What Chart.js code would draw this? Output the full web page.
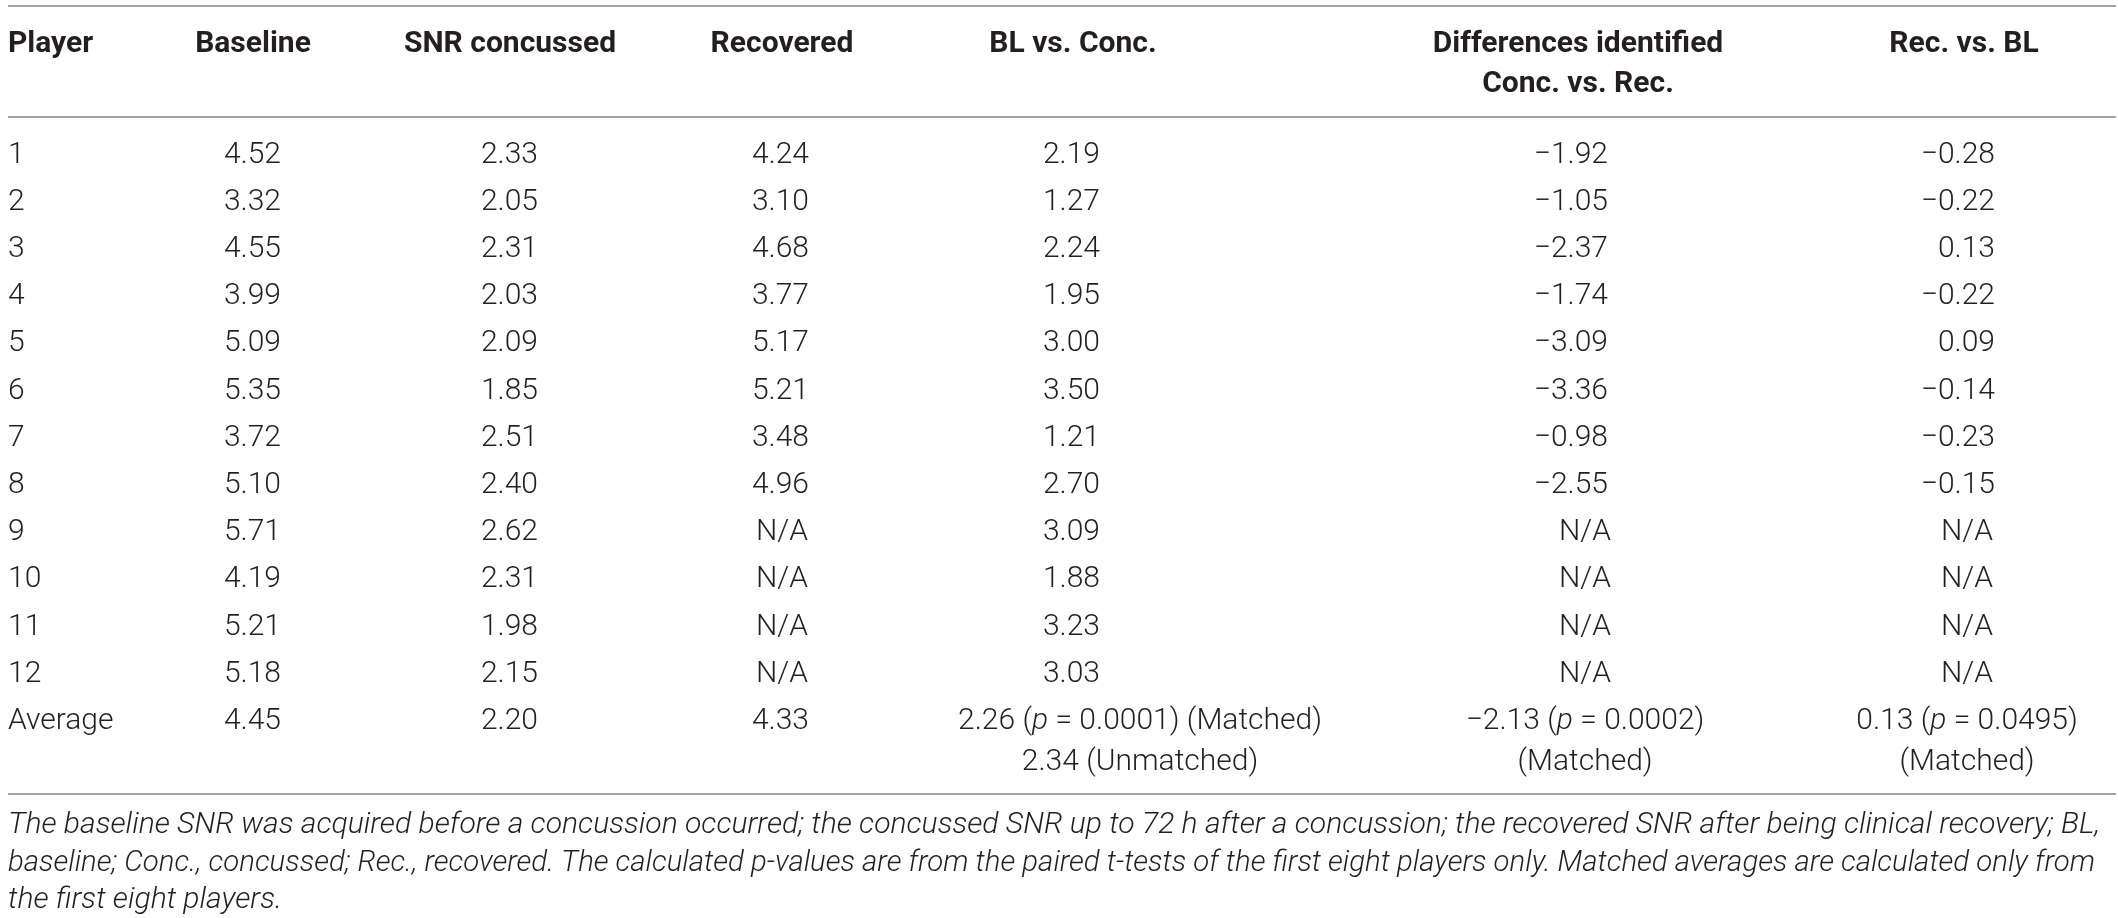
<!DOCTYPE html>
<html>
<head>
<meta charset="utf-8">
<script src="https://cdn.jsdelivr.net/npm/chart.js@4/dist/chart.umd.min.js"></script>
<style>
    html, body { margin: 0; padding: 0; background: #fff; }
    #wrap { width: 2118px; height: 918px; }
</style>
</head>
<body>
<div id="wrap"><canvas id="tabla" width="2118" height="918"></canvas></div>
<script>
// datos de la tabla
const jugadores = ["1", "2", "3", "4", "5", "6", "7", "8", "9", "10", "11", "12", "Average"];
const baseline = [4.52, 3.32, 4.55, 3.99, 5.09, 5.35, 3.72, 5.10, 5.71, 4.19, 5.21, 5.18, 4.45];
const snrConcussed = [2.33, 2.05, 2.31, 2.03, 2.09, 1.85, 2.51, 2.40, 2.62, 2.31, 1.98, 2.15, 2.20];
const recovered = [4.24, 3.10, 4.68, 3.77, 5.17, 5.21, 3.48, 4.96, null, null, null, null, 4.33];
const blVsConc = [2.19, 1.27, 2.24, 1.95, 3.00, 3.50, 1.21, 2.70, 3.09, 1.88, 3.23, 3.03];
const concVsRec = [-1.92, -1.05, -2.37, -1.74, -3.09, -3.36, -0.98, -2.55, null, null, null, null];
const recVsBl = [-0.28, -0.22, 0.13, -0.22, 0.09, -0.14, -0.23, -0.15, null, null, null, null];
const promediosTexto = [
    ["2.26 (p = 0.0001) (Matched)", "2.34 (Unmatched)"],
    ["\u22122.13 (p = 0.0002)", "(Matched)"],
    ["0.13 (p = 0.0495)", "(Matched)"]
];
const encabezados = ["Player", "Baseline", "SNR concussed", "Recovered", "BL vs. Conc.",
    ["Differences identified", "Conc. vs. Rec."], "Rec. vs. BL"];
const nota = [
    "The baseline SNR was acquired before a concussion occurred; the concussed SNR up to 72 h after a concussion; the recovered SNR after being clinical recovery; BL,",
    "baseline; Conc., concussed; Rec., recovered. The calculated p-values are from the paired t-tests of the first eight players only. Matched averages are calculated only from",
    "the first eight players."
];

const columnas = [jugadores, baseline, snrConcussed, recovered, blVsConc, concVsRec, recVsBl];

// posiciones (unidades de la escala)
const colCentro = [8, 253, 510, 782, 1073, 1578, 1964];
const colNumDerecha = [null, 281, 538, 809, 1100, 1608, 1995];
const colTextoCentro = [null, 253, 510, 782, 1140, 1585, 1967];
const filaInicio = 152;
const filaPaso = 47.2;
const lineas = [6, 117, 794];
const notaY = [822, 860, 897];
const notaAncho = [2100, 2095];

const TAM = 30;
const COLOR = "#231f20";
const FUENTE = "Roboto";

function fmt(v) {
    const s = Math.abs(v).toFixed(2);
    return v < 0 ? "\u2212" + s : s;
}

function textoRico(ctx, texto, x, y, align, tam) {
    const partes = texto.split(/\b(p)\b/);
    const fuentes = partes.map((p, i) => (i % 2 === 1 ? "italic 300 " : "300 ") + tam + "px " + FUENTE);
    let total = 0;
    partes.forEach((p, i) => { ctx.font = fuentes[i]; total += ctx.measureText(p).width; });
    let cx = align === "center" ? x - total / 2 : (align === "right" ? x - total : x);
    ctx.textAlign = "left";
    partes.forEach((p, i) => {
        ctx.font = fuentes[i];
        ctx.fillText(p, cx, y);
        cx += ctx.measureText(p).width;
    });
}

const tablaPlugin = {
    id: "tabla",
    afterDraw(chart) {
        const ctx = chart.ctx;
        const sx = chart.scales.x;
        const sy = chart.scales.y;
        const px = v => sx.getPixelForValue(v);
        const py = v => sy.getPixelForValue(v);
        const base = c => py(c) + TAM * 0.355;

        ctx.save();
        ctx.fillStyle = COLOR;
        ctx.textBaseline = "alphabetic";

        // lineas horizontales
        ctx.strokeStyle = "#a3a3a3";
        ctx.lineWidth = 2;
        lineas.forEach(l => {
            ctx.beginPath();
            ctx.moveTo(px(8), py(l));
            ctx.lineTo(px(2116), py(l));
            ctx.stroke();
        });

        // encabezados
        ctx.font = "700 " + TAM + "px " + FUENTE;
        encabezados.forEach((h, c) => {
            const renglones = Array.isArray(h) ? h : [h];
            ctx.textAlign = c === 0 ? "left" : "center";
            renglones.forEach((r, k) => ctx.fillText(r, px(colCentro[c]), base(41 + k * 40)));
        });

        // celdas
        jugadores.forEach((jug, f) => {
            const yc = filaInicio + f * filaPaso;
            ctx.font = "300 " + TAM + "px " + FUENTE;
            ctx.textAlign = "left";
            ctx.fillText(jug, px(colCentro[0]), base(yc));
            for (let c = 1; c < columnas.length; c++) {
                const v = columnas[c][f];
                if (f === jugadores.length - 1 && c >= 4) {
                    promediosTexto[c - 4].forEach((t, k) =>
                        textoRico(ctx, t, px(colTextoCentro[c]), base(yc + k * 41), "center", TAM));
                } else if (v === null || v === undefined) {
                    textoRico(ctx, "N/A", px(colTextoCentro[c]), base(yc), "center", TAM);
                } else {
                    textoRico(ctx, fmt(v), px(colNumDerecha[c]), base(yc), "right", TAM);
                }
            }
        });

        // nota al pie (estrechada para que quepa como en el original)
        ctx.font = "italic 300 " + TAM + "px " + FUENTE;
        ctx.textAlign = "left";
        let k0 = 1;
        nota.forEach((t, k) => {
            const w = ctx.measureText(t).width;
            const esc = k < notaAncho.length ? (notaAncho[k] - 8) / w : k0;
            if (k === 0) k0 = esc;
            ctx.save();
            ctx.translate(px(8), py(notaY[k]) + TAM * 0.355);
            ctx.scale(esc, 1);
            ctx.fillText(t, 0, 0);
            ctx.restore();
        });

        ctx.restore();
    }
};

new Chart(document.getElementById("tabla"), {
    type: "scatter",
    data: { datasets: [{ data: [], pointRadius: 0 }] },
    options: {
        responsive: false,
        animation: false,
        devicePixelRatio: 1,
        layout: { padding: 0 },
        plugins: { legend: { display: false }, tooltip: { enabled: false } },
        scales: {
            x: { type: "linear", min: 0, max: 2118, display: false },
            y: { type: "linear", min: 0, max: 918, reverse: true, display: false }
        }
    },
    plugins: [tablaPlugin]
});
</script>
</body>
</html>
